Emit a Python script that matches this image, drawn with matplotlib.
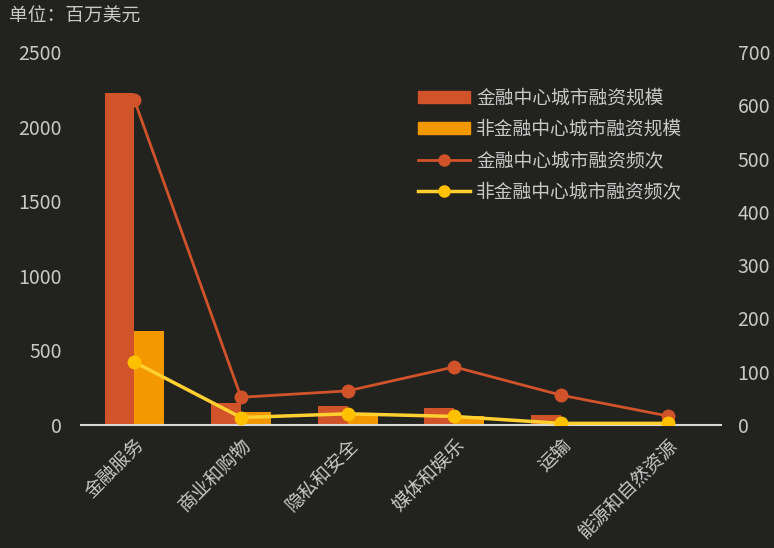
import matplotlib.pyplot as plt
import numpy as np
from matplotlib.patches import Patch
from matplotlib.lines import Line2D

plt.rcParams['font.family'] = ['Noto Sans CJK SC', 'DejaVu Sans']

categories = ["金融服务", "商业和购物", "隐私和安全", "媒体和娱乐", "运输", "能源和自然资源"]
scale_fin = [2225, 147, 129, 114, 65, 8]
scale_nonfin = [630, 87, 80, 60, 20, 5]
freq_fin = [610, 52, 64, 109, 56, 17]
freq_nonfin = [118, 14, 21, 16, 3, 3]

bg = "#22221f"
txt = "#c8c8c8"
c_red = "#d0532a"
c_orange = "#f39800"
c_yellow = "#ffc000"

fig = plt.figure(figsize=(7.74, 5.48), dpi=100, facecolor=bg)
ax = fig.add_axes([0.1047, 0.2245, 0.8268, 0.6805], facecolor=bg)
ax2 = ax.twinx()

x = np.arange(len(categories))
w = 0.28
ax.bar(x - w / 2, scale_fin, w, color=c_red, zorder=2)
ax.bar(x + w / 2, scale_nonfin, w, color=c_orange, zorder=2)

ax2.plot(x, freq_fin, color=c_red, lw=2, marker="o", ms=9, zorder=3)
ax2.plot(x, freq_nonfin, color="#ffd030", lw=2.5, marker="o", ms=9,
         markerfacecolor=c_yellow, markeredgecolor=c_yellow, zorder=3)

ax.set_xlim(-0.5, len(categories) - 0.5)
ax.set_ylim(0, 2500)
ax2.set_ylim(0, 700)
ax.set_yticks(range(0, 2501, 500))
ax2.set_yticks(range(0, 701, 100))

ax.set_xticks(x)
ax.set_xticklabels(categories, rotation=45, ha="right", rotation_mode="anchor")

for a in (ax, ax2):
    for s in a.spines.values():
        s.set_visible(False)
    a.tick_params(colors=txt, labelsize=14, length=0)
ax.spines["bottom"].set_visible(True)
ax.spines["bottom"].set_color("#d8d8d8")
ax.spines["bottom"].set_linewidth(1.5)
ax.tick_params(axis="y", pad=14)
ax.tick_params(axis="x", pad=7, labelsize=13.5)
ax2.tick_params(axis="y", pad=12)

handles = [
    Patch(color=c_red, label="金融中心城市融资规模"),
    Patch(color=c_orange, label="非金融中心城市融资规模"),
    Line2D([], [], color=c_red, lw=2, marker="o", ms=8, label="金融中心城市融资频次"),
    Line2D([], [], color="#ffd030", lw=2.5, marker="o", ms=8,
           markerfacecolor=c_yellow, markeredgecolor=c_yellow, label="非金融中心城市融资频次"),
]
leg = ax2.legend(handles=handles, loc="upper left", bbox_to_anchor=(0.5, 0.95),
                 frameon=False, fontsize=13.5, labelcolor=txt,
                 handlelength=2.8, handleheight=0.6, handletextpad=0.3, labelspacing=0.55)

fig.text(0.012, 0.97, "单位：百万美元", color=txt, fontsize=13.5, va="center")

fig.savefig("out.png", facecolor=bg)
